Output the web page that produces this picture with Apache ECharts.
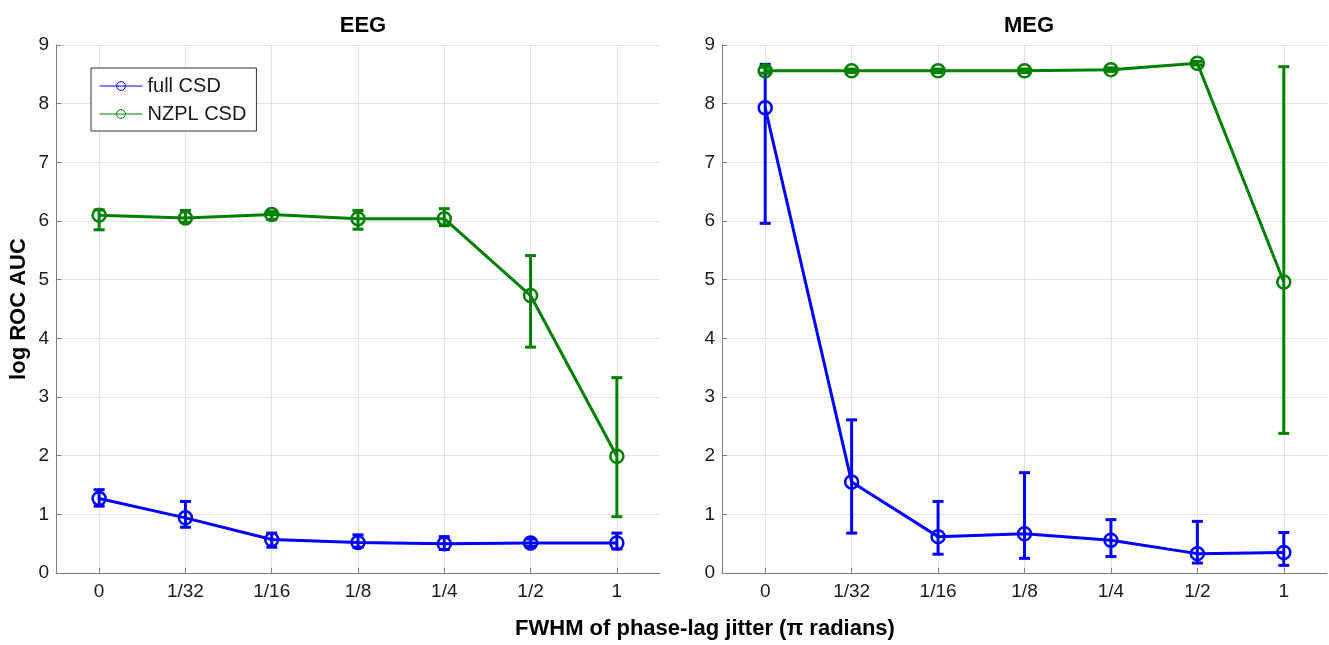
<!DOCTYPE html>
<html>
<head>
<meta charset="utf-8">
<title>log ROC AUC vs phase-lag jitter</title>
<script src="https://cdn.jsdelivr.net/npm/echarts@6/dist/echarts.min.js"></script>
<style>
  html, body { margin: 0; padding: 0; background: #fff; }
  #chart { width: 1329px; height: 645px; }
</style>
</head>
<body>
<div id="chart"></div>
<script>
// Jitter levels (FWHM, in units of pi radians)
const categories = ['0', '1/32', '1/16', '1/8', '1/4', '1/2', '1'];
const yTicks = [0, 1, 2, 3, 4, 5, 6, 7, 8, 9];

// EEG: full CSD
const eegFull   = [1.27, 0.94, 0.57, 0.52, 0.50, 0.51, 0.51];
const eegFullLo = [1.14, 0.78, 0.44, 0.44, 0.40, 0.45, 0.41];
const eegFullHi = [1.42, 1.22, 0.68, 0.65, 0.62, 0.58, 0.68];
// EEG: NZPL CSD
const eegNzpl   = [6.10, 6.05, 6.11, 6.04, 6.04, 4.73, 1.99];
const eegNzplLo = [5.85, 5.98, 6.03, 5.86, 5.92, 3.85, 0.96];
const eegNzplHi = [6.19, 6.18, 6.16, 6.18, 6.21, 5.41, 3.33];

// MEG: full CSD
const megFull   = [7.93, 1.55, 0.62, 0.67, 0.56, 0.33, 0.35];
const megFullLo = [5.96, 0.68, 0.32, 0.25, 0.28, 0.17, 0.13];
const megFullHi = [8.67, 2.61, 1.22, 1.71, 0.91, 0.88, 0.69];
// MEG: NZPL CSD
const megNzpl   = [8.56, 8.56, 8.56, 8.56, 8.58, 8.69, 4.96];
const megNzplLo = [8.52, 8.53, 8.53, 8.53, 8.55, 8.66, 2.38];
const megNzplHi = [8.62, 8.59, 8.59, 8.59, 8.61, 8.72, 8.63];

const BLUE = '#0000ff';
const GREEN = '#008000';
const FONT = 'Liberation Sans, Arial, Helvetica, sans-serif';
const TEXT = '#1a1a1a';
const AXIS = '#808080';
const GRID = '#e3e3e3';
const BOLD = { fontFamily: FONT, fontSize: 22, fontWeight: 'bold', color: '#000' };

function errorRows(lo, hi) {
  return lo.map((v, i) => [i, v, hi[i]]);
}

// Vertical error bar with caps, positioned through the axis scales
function renderErrorBar(color) {
  return function (params, api) {
    const x = api.value(0);
    const top = api.coord([x, api.value(2)]);
    const bot = api.coord([x, api.value(1)]);
    const cap = 5.5;
    const style = { stroke: color, lineWidth: 3, fill: null };
    return {
      type: 'group',
      children: [
        { type: 'line', shape: { x1: top[0], y1: top[1], x2: bot[0], y2: bot[1] }, style },
        { type: 'line', shape: { x1: top[0] - cap, y1: top[1], x2: top[0] + cap, y2: top[1] }, style },
        { type: 'line', shape: { x1: bot[0] - cap, y1: bot[1], x2: bot[0] + cap, y2: bot[1] }, style }
      ]
    };
  };
}

function xAxisFor(gridIndex) {
  return {
    type: 'category',
    gridIndex,
    data: categories,
    boundaryGap: true,
    axisLine: { show: true, lineStyle: { color: AXIS, width: 1 } },
    axisTick: { show: true, inside: true, length: 5, alignWithLabel: true, lineStyle: { color: AXIS } },
    axisLabel: { color: TEXT, fontFamily: FONT, fontSize: 19, margin: 9 },
    splitLine: { show: true, alignWithLabel: true, lineStyle: { color: GRID, width: 1 } }
  };
}

function yAxisFor(gridIndex, withName) {
  const ax = {
    type: 'value',
    gridIndex,
    min: yTicks[0],
    max: yTicks[yTicks.length - 1],
    interval: 1,
    axisLine: { show: true, lineStyle: { color: AXIS, width: 1 } },
    axisTick: { show: true, inside: true, length: 5, lineStyle: { color: AXIS } },
    axisLabel: { color: TEXT, fontFamily: FONT, fontSize: 19, margin: 7 },
    splitLine: { show: true, lineStyle: { color: GRID, width: 1 } }
  };
  if (withName) {
    ax.name = 'log ROC AUC';
    ax.nameLocation = 'middle';
    ax.nameGap = 26;
    ax.nameTextStyle = BOLD;
  }
  return ax;
}

function lineSeries(name, data, color, idx) {
  return {
    name,
    type: 'line',
    xAxisIndex: idx,
    yAxisIndex: idx,
    data,
    color,
    symbol: 'circle',
    symbolSize: 13,
    lineStyle: { color, width: 3 },
    itemStyle: { color: 'rgba(0,0,0,0)', borderColor: color, borderWidth: 2.5 },
    emphasis: { disabled: true },
    z: 3
  };
}

function errSeries(name, lo, hi, color, idx) {
  return {
    name,
    type: 'custom',
    xAxisIndex: idx,
    yAxisIndex: idx,
    color,
    data: errorRows(lo, hi),
    renderItem: renderErrorBar(color),
    encode: { x: 0, y: [1, 2] },
    z: 3
  };
}

const chart = echarts.init(document.getElementById('chart'), null, { renderer: 'canvas' });

chart.setOption({
  animation: false,
  backgroundColor: '#fff',
  title: [
    { text: 'EEG', left: 358, top: 10, textAlign: 'center', textStyle: BOLD },
    { text: 'MEG', left: 1024, top: 10, textAlign: 'center', textStyle: BOLD },
    { text: 'FWHM of phase-lag jitter (\u03c0 radians)', left: 700, top: 613, textAlign: 'center', textStyle: BOLD }
  ],
  legend: {
    data: ['full CSD', 'NZPL CSD'],
    orient: 'vertical',
    left: 91,
    top: 68,
    padding: [8, 10, 7, 8],
    itemGap: 8,
    itemWidth: 43,
    itemHeight: 11,
    backgroundColor: '#fff',
    borderColor: '#333',
    borderWidth: 1,
    borderRadius: 0,
    textStyle: { color: TEXT, fontFamily: FONT, fontSize: 20 },
    lineStyle: { width: 1 },
    itemStyle: { borderWidth: 1 },
    selectedMode: false
  },
  grid: [
    { left: 56, top: 45, width: 604, height: 528, containLabel: false },
    { left: 722, top: 45, width: 605, height: 528, containLabel: false }
  ],
  xAxis: [xAxisFor(0), xAxisFor(1)],
  yAxis: [yAxisFor(0, true), yAxisFor(1, false)],
  series: [
    errSeries('full CSD error', eegFullLo, eegFullHi, BLUE, 0),
    lineSeries('full CSD', eegFull, BLUE, 0),
    errSeries('NZPL CSD error', eegNzplLo, eegNzplHi, GREEN, 0),
    lineSeries('NZPL CSD', eegNzpl, GREEN, 0),
    errSeries('full CSD error', megFullLo, megFullHi, BLUE, 1),
    lineSeries('full CSD', megFull, BLUE, 1),
    errSeries('NZPL CSD error', megNzplLo, megNzplHi, GREEN, 1),
    lineSeries('NZPL CSD', megNzpl, GREEN, 1)
  ]
});
</script>
</body>
</html>
